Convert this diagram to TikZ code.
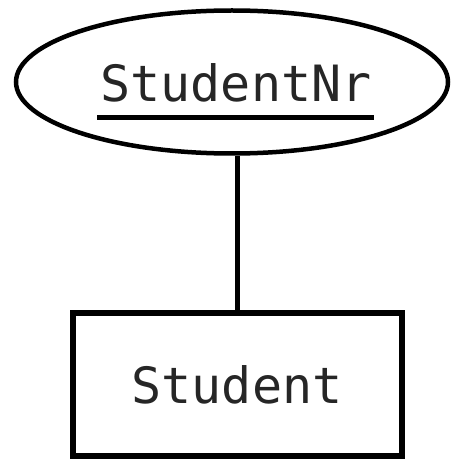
\documentclass[tikz,border=0pt]{standalone}
\usepackage{fontspec}
\setmonofont{DejaVu Sans Mono}
\usetikzlibrary{shapes.geometric}
\begin{document}
\begin{tikzpicture}[x=1pt,y=-1pt,
  label text/.style={font=\ttfamily\fontsize{50}{50}\selectfont, inner sep=0pt, text=black!85},
  attribute/.style={ellipse, draw, line width=4.5pt, minimum width=432pt, minimum height=143pt, inner sep=0pt},
  entity/.style={rectangle, draw, line width=6pt, minimum width=329pt, minimum height=143pt, inner sep=0pt},
  link/.style={line width=4.5pt},
  keyline/.style={line width=5pt}]
  \useasboundingbox (0,0) rectangle (454,462);
  % key attribute
  \node[attribute] (attr) at (232,82) {};
  \node[label text] (attrtext) at (236,83) {StudentNr};
  \draw[keyline] ([xshift=-3pt,yshift=-16pt]attrtext.base west) -- ([xshift=2pt,yshift=-16pt]attrtext.base east);
  % entity
  \node[entity] (ent) at (237.5,384.5) {};
  \node[label text] (enttext) at (237,384.5) {Student};
  % connector between attribute and entity
  \draw[link] (ent.north) -- (ent.north |- attr.south);
\end{tikzpicture}
\end{document}
